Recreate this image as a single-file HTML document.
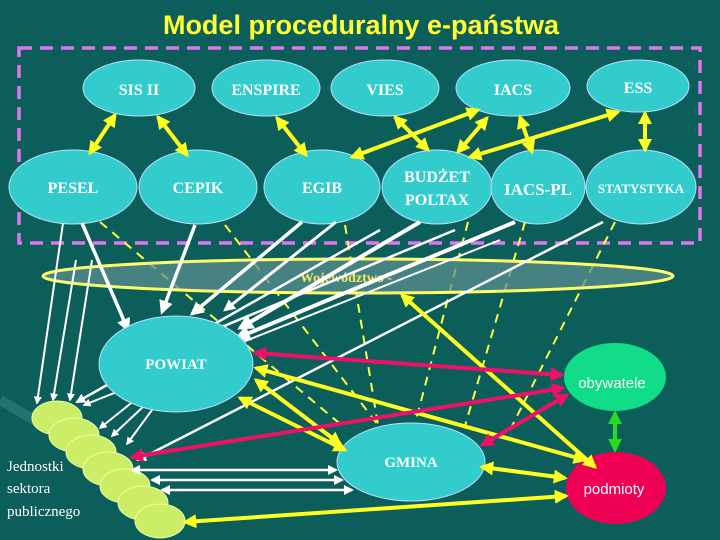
<!DOCTYPE html>
<html><head><meta charset="utf-8"><style>
html,body{margin:0;padding:0;background:#0c5e5a;}
svg{display:block}
</style></head><body>
<svg width="720" height="540" viewBox="0 0 720 540" xmlns="http://www.w3.org/2000/svg">
<defs>
<marker id="aw" viewBox="0 0 10 10" refX="8" refY="5" markerWidth="4" markerHeight="4" orient="auto-start-reverse"><path d="M0,0L10,5L0,10z" fill="#fff"/></marker>
<marker id="ay" viewBox="0 0 10 10" refX="8" refY="5" markerWidth="3.5" markerHeight="3.5" orient="auto-start-reverse"><path d="M0,0L10,5L0,10z" fill="#ffff22"/></marker>
<marker id="ar" viewBox="0 0 10 10" refX="8" refY="5" markerWidth="3.5" markerHeight="3.5" orient="auto-start-reverse"><path d="M0,0L10,5L0,10z" fill="#ee1166"/></marker>
<marker id="ag" viewBox="0 0 10 10" refX="8" refY="5" markerWidth="3.5" markerHeight="3.5" orient="auto-start-reverse"><path d="M0,0L10,5L0,10z" fill="#22dd22"/></marker>
</defs>
<rect width="720" height="540" fill="#0c5e5a"/>
<path d="M0,400 L120,470" stroke="#3a8a88" stroke-width="10" opacity="0.5"/>
<text x="361" y="34" text-anchor="middle" font-family="Liberation Sans, sans-serif" font-size="27" font-weight="bold" fill="#ffff33">Model proceduralny e-państwa</text>
<rect x="19" y="48" width="681" height="195" fill="none" stroke="#dd77ee" stroke-width="3.5" stroke-dasharray="13,8"/>

<g fill="#33cccc" stroke="#bdf" stroke-width="1">
<ellipse cx="139" cy="88" rx="56" ry="28"/>
<ellipse cx="266" cy="88" rx="54" ry="28"/>
<ellipse cx="385" cy="88" rx="54" ry="28"/>
<ellipse cx="513" cy="88" rx="57" ry="28"/>
<ellipse cx="638" cy="86" rx="51" ry="26"/>
<ellipse cx="73" cy="187" rx="64" ry="37"/>
<ellipse cx="198" cy="187" rx="59" ry="37"/>
<ellipse cx="322" cy="187" rx="58" ry="37"/>
<ellipse cx="437" cy="187" rx="55" ry="37"/>
<ellipse cx="538" cy="187" rx="47" ry="37"/>
<ellipse cx="641" cy="187" rx="55" ry="37"/>
</g>
<g font-family="Liberation Serif, serif" font-weight="bold" font-size="16" fill="#fff" text-anchor="middle">
<text x="139" y="95">SIS II</text><text x="266" y="95">ENSPIRE</text><text x="385" y="95">VIES</text>
<text x="513" y="95">IACS</text><text x="638" y="93">ESS</text>
<text x="73" y="193">PESEL</text><text x="198" y="193">CEPIK</text><text x="322" y="193">EGIB</text>
<text x="437" y="182">BUDŻET</text><text x="437" y="205">POLTAX</text>
<text x="538" y="195" font-size="17">IACS-PL</text><text x="641" y="193" font-size="13">STATYSTYKA</text>
</g>
<g stroke="#ffff22" stroke-width="4" marker-start="url(#ay)" marker-end="url(#ay)" fill="none">
<line x1="115" y1="115" x2="90" y2="153"/>
<line x1="158" y1="117" x2="187" y2="155"/>
<line x1="277" y1="118" x2="306" y2="155"/>
<line x1="395" y1="117" x2="428" y2="150"/>
<line x1="478" y1="110" x2="352" y2="157"/>
<line x1="487" y1="118" x2="458" y2="152"/>
<line x1="520" y1="117" x2="532" y2="152"/>
<line x1="618" y1="112" x2="470" y2="157"/>
<line x1="645" y1="113" x2="645" y2="150"/>
</g>

<g stroke="#ffff44" stroke-width="2" stroke-dasharray="9,7" fill="none">
<line x1="100" y1="222" x2="345" y2="428"/>
<line x1="225" y1="225" x2="378" y2="425"/>
<line x1="345" y1="225" x2="378" y2="425"/>
<line x1="468" y1="222" x2="415" y2="424"/>
<line x1="525" y1="222" x2="465" y2="426"/>
<line x1="615" y1="222" x2="510" y2="430"/>
</g>

<ellipse cx="358" cy="276" rx="315" ry="17" fill="#5a8f8f" fill-opacity="0.75" stroke="#ffff66" stroke-width="3"/>
<text x="346" y="282" text-anchor="middle" font-family="Liberation Serif, serif" font-weight="bold" font-size="14" fill="#eeee55">Województwo -</text>

<g stroke="#fff" fill="none" marker-end="url(#aw)">
<line x1="63" y1="223" x2="37" y2="403" stroke-width="2"/>
<line x1="76" y1="260" x2="53" y2="400" stroke-width="2"/>
<line x1="92" y1="260" x2="70" y2="400" stroke-width="2"/>
<line x1="82" y1="223" x2="128" y2="330" stroke-width="3.5"/>
<line x1="195" y1="225" x2="162" y2="312" stroke-width="3.5"/>
<line x1="302" y1="222" x2="192" y2="314" stroke-width="3.5"/>
<line x1="336" y1="222" x2="225" y2="310" stroke-width="3"/>
<line x1="420" y1="222" x2="240" y2="328" stroke-width="4"/>
<line x1="455" y1="230" x2="200" y2="336" stroke-width="2.5"/>
<line x1="515" y1="222" x2="237" y2="338" stroke-width="4"/>
<line x1="603" y1="222" x2="138" y2="460" stroke-width="2.5"/>
<line x1="380" y1="230" x2="77" y2="402" stroke-width="2.5"/>
<line x1="500" y1="240" x2="84" y2="405" stroke-width="2"/>
<line x1="135" y1="400" x2="100" y2="428" stroke-width="2"/>
<line x1="145" y1="405" x2="112" y2="436" stroke-width="2"/>
<line x1="152" y1="410" x2="127" y2="444" stroke-width="2"/>
</g>

<g fill="#ccee66" stroke="#eeffaa" stroke-width="1">
<ellipse cx="57" cy="418" rx="25" ry="17"/><ellipse cx="74" cy="435" rx="25" ry="17"/>
<ellipse cx="91" cy="452" rx="25" ry="17"/><ellipse cx="108" cy="469" rx="25" ry="17"/>
<ellipse cx="125" cy="486" rx="25" ry="17"/><ellipse cx="143" cy="503" rx="25" ry="17"/>
<ellipse cx="160" cy="521" rx="25" ry="17"/>
</g>
<g font-family="Liberation Serif, serif" font-size="15" fill="#fff">
<text x="7" y="471">Jednostki</text><text x="7" y="493">sektora</text><text x="7" y="516">publicznego</text>
</g>

<g fill="#33cccc" stroke="#bdf" stroke-width="1">
<ellipse cx="176" cy="364" rx="77" ry="48"/>
<ellipse cx="411" cy="462" rx="74" ry="39"/>
</g>
<ellipse cx="615" cy="377" rx="51" ry="34" fill="#11dd88"/>
<ellipse cx="616" cy="488" rx="50" ry="36" fill="#ee0055"/>
<g font-family="Liberation Serif, serif" font-weight="bold" font-size="15" fill="#fff" text-anchor="middle">
<text x="176" y="369">POWIAT</text><text x="411" y="467">GMINA</text>
</g>
<g font-family="Liberation Sans, sans-serif" font-size="15" fill="#fff" text-anchor="middle">
<text x="612" y="388">obywatele</text><text x="614" y="494">podmioty</text>
</g>

<g stroke="#fff" stroke-width="2.5" marker-start="url(#aw)" marker-end="url(#aw)">
<line x1="132" y1="470" x2="336" y2="470"/>
<line x1="152" y1="480" x2="342" y2="480"/>
<line x1="162" y1="490" x2="352" y2="490"/>
</g>
<g stroke="#ffff22" stroke-width="4" fill="none" marker-start="url(#ay)" marker-end="url(#ay)">
<line x1="402" y1="295" x2="595" y2="467"/>
<line x1="256" y1="368" x2="585" y2="460"/>
<line x1="256" y1="380" x2="340" y2="444"/>
<line x1="240" y1="398" x2="345" y2="450"/>
<line x1="482" y1="467" x2="565" y2="478"/>
<line x1="185" y1="522" x2="566" y2="496"/>
</g>
<g stroke="#ee1166" stroke-width="4" fill="none" marker-start="url(#ar)" marker-end="url(#ar)">
<line x1="255" y1="353" x2="562" y2="375"/>
<line x1="132" y1="457" x2="563" y2="388"/>
<line x1="482" y1="445" x2="567" y2="395"/>
</g>
<line x1="615" y1="413" x2="615" y2="450" stroke="#22dd22" stroke-width="4" marker-start="url(#ag)" marker-end="url(#ag)"/>
</svg>
</body></html>
